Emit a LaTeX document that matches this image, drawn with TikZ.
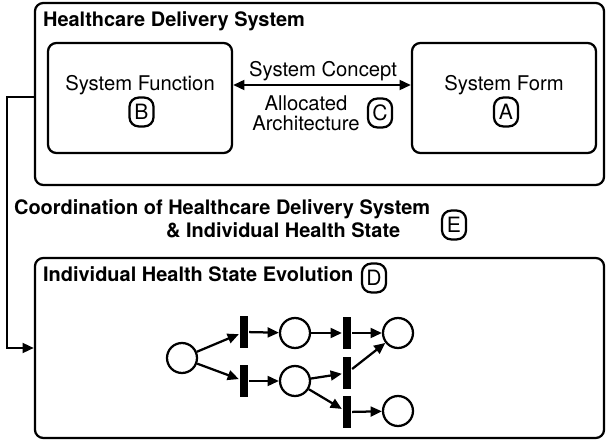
\documentclass[tikz,border=0pt]{standalone}
\usepackage{fontspec}
\setmainfont{TeX Gyre Heros}
\usetikzlibrary{arrows.meta}

\begin{document}
\begin{tikzpicture}[x=0.025cm, y=-0.025cm, line width=1.6pt,
    >={Triangle[length=8pt,width=7pt]},
    box/.style={draw, rounded corners=6pt, inner sep=0pt},
    tag/.style={draw, rounded corners=6.5pt, minimum width=0.6cm, minimum height=0.72cm, inner sep=0pt, font=\fontsize{15}{15}\selectfont},
    txt/.style={inner sep=0pt, font=\fontsize{14.4}{14.4}\selectfont},
    ttl/.style={inner sep=0pt, anchor=base west, font=\fontsize{14.2}{14.2}\selectfont\bfseries},
    place/.style={draw, circle, minimum size=0.75cm, inner sep=0pt},
    trans/.style={fill, minimum width=0.2cm, minimum height=0.8cm, inner sep=0pt}]
    \useasboundingbox (0,0) rectangle (607,445);

    % delivery system
    \node[box, minimum width=14.225cm, minimum height=4.55cm] (hds) at (319.5,94) {};
    \node[ttl] (hdsttl) at (42,27) {Healthcare Delivery System};

    \node[box, minimum width=4.6cm, minimum height=2.75cm] (fn) at (140,98) {};
    \node[txt, anchor=base] (fnlbl) at (140,91) {System Function};
    \node[tag] (b) at (141.5,112) {B};

    \node[box, minimum width=4.6cm, minimum height=2.75cm] (fm) at (504,98) {};
    \node[txt, anchor=base] (fmlbl) at (504,91) {System Form};
    \node[tag] (a) at (506,112) {A};

    \coordinate (cpt) at (322,85);
    \draw[<->] (fn.east |- cpt) -- (fm.west |- cpt);
    \node[txt, anchor=base] (concept) at (323,77) {System Concept};
    \node[txt, align=center] (alloc) at (306,113) {Allocated\\Architecture};
    \node[tag] (c) at (380,113) {C};

    % coordination
    \node[ttl] (coord1) at (13,215) {Coordination of Healthcare Delivery System};
    \node[ttl] (coord2) at (165,238) {\& Individual Health State};
    \node[tag] (e) at (454,225) {E};

    % health state
    \node[box, minimum width=14.225cm, minimum height=4.5cm] (ihs) at (319.5,348) {};
    \node[ttl] (ihsttl) at (42,282) {Individual Health State Evolution};
    \node[tag] (d) at (374,278) {D};

    \draw[->] ([yshift=-2pt]hds.west) -- ++(-27,0) |- (ihs.west);

    % petri net
    \foreach \n/\x/\y in {p0/182/358, p1/295/333, p2/295/381, p3/398/333, p4/398/411}
        \node[place] (\n) at (\x,\y) {};
    \foreach \n/\x/\y in {t1/244/332, t2/244/381, t3/347/333, t4/347/373, t5/347/412}
        \node[trans] (\n) at (\x,\y) {};
    \foreach \a/\b in {p0/t1, p0/t2, t1/p1, t2/p2, p1/t3, t3/p3, p2/t4, p2/t5, t4/p3, t5/p4}
        \draw[->] (\a) -- (\b);
\end{tikzpicture}
\end{document}
